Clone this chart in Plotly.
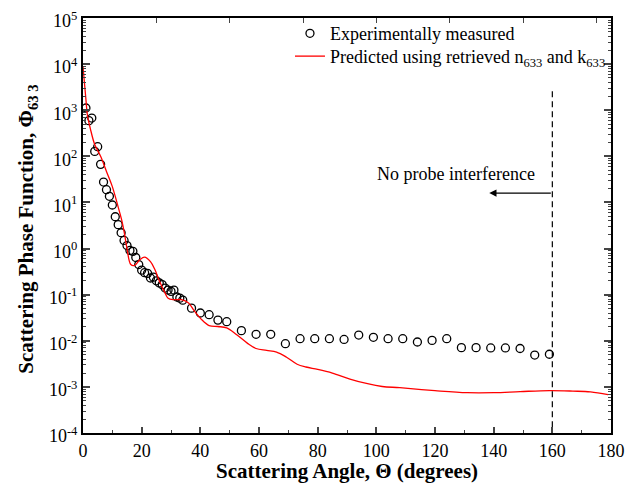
import plotly.graph_objects as go

# Measured data (angle in degrees, phase function)
meas_angle = [1, 2, 3, 4, 5, 6, 7, 8, 9, 10, 11, 12, 13, 14, 15, 16, 17, 18, 19, 20,
              21, 22, 23, 24, 25, 26, 27, 28, 29, 30, 31, 32, 33, 34, 37, 40, 43, 46, 49,
              54, 59, 64, 69, 74, 79, 84, 89, 94, 99, 104, 109, 114, 119, 124, 129, 134,
              139, 144, 149, 154, 159]
meas_value = [1117, 594, 677, 128, 162, 67, 27.7, 18.9, 13.6, 8.8, 4.9, 3.3, 2.2, 1.5, 1.16,
              0.91, 0.87, 0.64, 0.45, 0.34, 0.30, 0.29, 0.23, 0.24, 0.20, 0.18, 0.165, 0.139,
              0.126, 0.118, 0.126, 0.089, 0.084, 0.076, 0.051, 0.040, 0.0368, 0.0281, 0.0259,
              0.0166, 0.0138, 0.0138, 0.00865, 0.0111, 0.0111, 0.0111, 0.0107, 0.0133, 0.0119,
              0.0111, 0.0111, 0.0094, 0.0102, 0.0111, 0.0071, 0.0071, 0.0070, 0.0070, 0.0068,
              0.0049, 0.0051]

# Predicted curve
pred_angle = [0, 1, 1.5, 2.5, 4, 6, 8, 10, 12, 13.3, 14.2, 15, 16.3, 17.6, 19.4, 21, 23,
              24.5, 26, 28, 29, 31, 33.5, 36, 38, 40.4, 43, 46, 49, 52.4, 56, 59, 62.6, 66,
              69.4, 73, 76, 80, 85, 91, 97, 102, 108, 120, 131, 140, 149, 159, 167, 173, 179]
pred_value = [8900, 1700, 780, 400, 180, 100, 47, 22, 7.9, 3.9, 2.0, 1.0, 0.45, 0.43, 0.575,
              0.65, 0.52, 0.35, 0.20, 0.108, 0.084, 0.078, 0.078, 0.066, 0.044, 0.029, 0.0214,
              0.0204, 0.019, 0.0135, 0.0089, 0.0068, 0.0062, 0.0057, 0.0044, 0.0031, 0.0027,
              0.0024, 0.0020, 0.00148, 0.00117, 0.00102, 0.00096, 0.00083, 0.00075, 0.00075,
              0.00079, 0.00083, 0.00081, 0.00078, 0.00068]

cutoff_angle = 160
cutoff_span = [2570, 1e-4]

x_ticks = [0, 20, 40, 60, 80, 100, 120, 140, 160, 180]
top_ticks = [25, 50, 75, 100, 125, 150, 175]
y_exps = [-4, -3, -2, -1, 0, 1, 2, 3, 4, 5]
y_tickvals = [10.0 ** e for e in y_exps]
y_ticktext = ["10<sup>%d</sup>" % e for e in y_exps]

FONT = "Liberation Serif"

fig = go.Figure()
fig.add_trace(go.Scatter(
    x=meas_angle, y=meas_value, mode="markers", name="Experimentally measured",
    legend="legend",
    marker=dict(symbol="circle-open", size=8, color="black", line=dict(width=1.3))))
fig.add_trace(go.Scatter(
    x=pred_angle, y=pred_value, mode="lines", line_shape="spline",
    name="Predicted using retrieved n<sub>633</sub> and k<sub>633</sub>",
    legend="legend2",
    line=dict(color="#ff0000", width=1.3)))
fig.add_trace(go.Scatter(
    x=[cutoff_angle, cutoff_angle], y=cutoff_span, mode="lines", showlegend=False,
    line=dict(color="black", width=1.2, dash="6px,4px"), hoverinfo="skip"))
fig.add_trace(go.Scatter(x=[0], y=[1], xaxis="x2", mode="markers",
                         marker=dict(opacity=0), showlegend=False, hoverinfo="skip"))

legend_style = dict(xanchor="left", yanchor="top", bgcolor="rgba(0,0,0,0)",
                    font=dict(family=FONT, size=18, color="black"))

fig.update_layout(
    width=631, height=480,
    margin=dict(l=75, r=28, t=10, b=55, autoexpand=False),
    paper_bgcolor="white", plot_bgcolor="white",
    font=dict(family=FONT, size=18, color="black"),
    showlegend=True,
    legend=dict(x=0.392, y=1.007, **legend_style),
    legend2=dict(x=0.392, y=0.952, **legend_style),
    xaxis=dict(range=[0, 180], tickvals=x_ticks, ticks="inside", ticklen=6, tickwidth=1.5,
               showline=True, linewidth=2, linecolor="black", showgrid=False, zeroline=False,
               mirror=False, automargin=False, ticklabeloverflow="allow",
               minor=dict(dtick=10, ticks="inside", ticklen=3, tickwidth=1.2, showgrid=False),
               tickfont=dict(family=FONT, size=18)),
    xaxis2=dict(range=[0, 180], overlaying="x", side="top", tickvals=top_ticks,
                ticks="inside", ticklen=5, tickwidth=1.2, showticklabels=False,
                showline=True, linewidth=2, linecolor="black", showgrid=False,
                zeroline=False, automargin=False),
    yaxis=dict(type="log", range=[-4, 5], tickvals=y_tickvals, ticktext=y_ticktext,
               ticks="inside", ticklen=7, tickwidth=1.5, showline=True, linewidth=2,
               linecolor="black", mirror="ticks", showgrid=False, zeroline=False,
               automargin=False, ticklabeloverflow="allow", ticklabelshift=3,
               minor=dict(dtick="D1", ticks="inside", ticklen=3, tickwidth=1, showgrid=False),
               tickfont=dict(family=FONT, size=18)),
    annotations=[
        dict(text="<b>Scattering Angle, \u0398 (degrees)</b>", xref="paper", yref="paper",
             x=0.5, y=-0.092, xanchor="center", yanchor="middle", showarrow=False,
             font=dict(family=FONT, size=21)),
        dict(text="<b>Scattering Phase Function, \u03a6<sub>63 3</sub></b>", xref="paper",
             yref="paper", x=-0.106, y=0.49, xanchor="center", yanchor="middle",
             textangle=-90, showarrow=False, font=dict(family=FONT, size=21)),
        dict(text="No probe interference", xref="x", yref="y", x=127, y=1.61,
             showarrow=False, font=dict(family=FONT, size=18)),
        dict(text="", xref="x", yref="y", x=138.5, y=1.204, axref="x", ayref="y",
             ax=cutoff_angle, ay=1.204, showarrow=True, arrowhead=2, arrowsize=1.2,
             arrowwidth=1.2, arrowcolor="black", standoff=0, startstandoff=0),
    ],
)

fig.write_html("out.html")
